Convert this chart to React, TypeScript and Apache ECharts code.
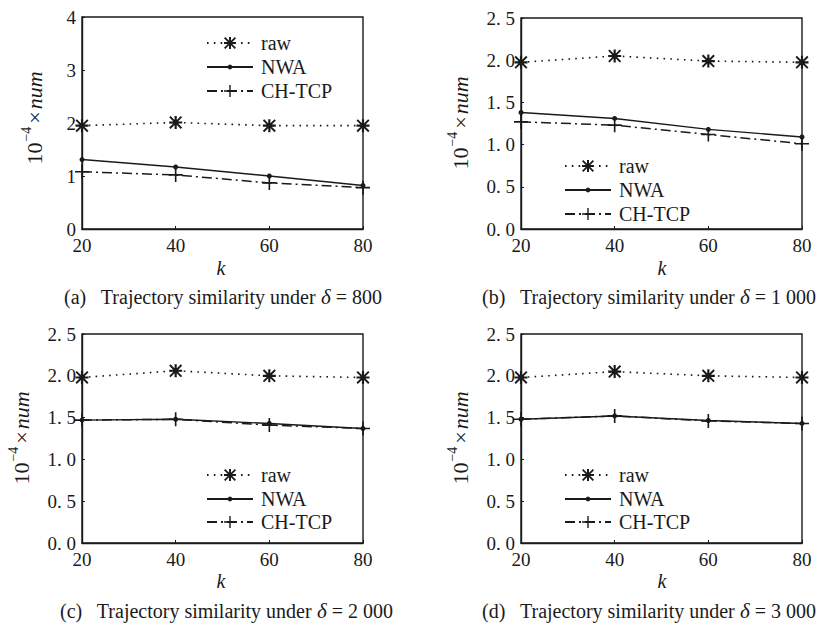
import React, { useEffect, useRef } from "react";
import * as echarts from "echarts";

const kValues = [20, 40, 60, 80];
const seriesNames = ["raw", "NWA", "CH-TCP"];

// panel (a) δ = 800
const rawA = [1.95, 2.01, 1.95, 1.95];
const nwaA = [1.31, 1.17, 1.0, 0.82];
const chA = [1.08, 1.02, 0.87, 0.78];
// panel (b) δ = 1 000
const rawB = [1.975, 2.05, 1.99, 1.975];
const nwaB = [1.38, 1.31, 1.18, 1.09];
const chB = [1.27, 1.23, 1.12, 1.01];
// panel (c) δ = 2 000
const rawC = [1.98, 2.06, 2.0, 1.98];
const nwaC = [1.47, 1.48, 1.43, 1.37];
const chC = [1.47, 1.48, 1.41, 1.37];
// panel (d) δ = 3 000
const rawD = [1.98, 2.05, 2.0, 1.98];
const nwaD = [1.48, 1.52, 1.465, 1.43];
const chD = [1.48, 1.52, 1.46, 1.43];

const yMaxes = [4, 2.5, 2.5, 2.5];
const yIntervals = [1, 0.5, 0.5, 0.5];
const captionLetters = ["(a)", "(b)", "(c)", "(d)"];
const deltaLabels = ["800", "1 000", "2 000", "3 000"];

const FONT = "Liberation Serif";
const INK = "#1a1a1a";

const ASTERISK =
  "path://M10,0H14V24H10Z M0,10H24V14H0Z M2.5,0L24,21.5L21.5,24L0,2.5Z M21.5,0L24,2.5L2.5,24L0,21.5Z M7,7H17V17H7Z";
const PLUS = "path://M10.6,0H13.4V24H10.6Z M0,10.6H24V13.4H0Z";

const panelData = [
  [rawA, nwaA, chA],
  [rawB, nwaB, chB],
  [rawC, nwaC, chC],
  [rawD, nwaD, chD],
];

const grids = [
  { left: 82, top: 17, width: 281, height: 212 },
  { left: 521, top: 18, width: 281, height: 211 },
  { left: 82, top: 334, width: 281, height: 209 },
  { left: 521, top: 334, width: 281, height: 209 },
];

const legendPos = [
  { left: 201, rows: [38, 62, 86] },
  { left: 559, rows: [161, 185, 209] },
  { left: 201, rows: [470, 494, 517] },
  { left: 559, rows: [470, 494, 517] },
];

const yNamePos = [
  { x: 32, y: 118 },
  { x: 458, y: 123 },
  { x: 19, y: 438 },
  { x: 458, y: 438 },
];
const kPos = [
  { x: 221, y: 268 },
  { x: 662, y: 268 },
  { x: 221, y: 581 },
  { x: 662, y: 581 },
];
const capPos = [
  { x: 64, y: 297 },
  { x: 482, y: 297 },
  { x: 60, y: 611 },
  { x: 482, y: 611 },
];

function seriesStyle(idx: number) {
  if (idx === 0)
    return {
      symbol: ASTERISK,
      symbolSize: 13,
      lineStyle: { color: INK, width: 1.6, type: [1.6, 5.2] as any, cap: "butt" as any },
      itemStyle: { color: INK },
    };
  if (idx === 1)
    return {
      symbol: "circle",
      symbolSize: 5,
      lineStyle: { color: INK, width: 1.4, type: "solid" as any },
      itemStyle: { color: INK },
    };
  return {
    symbol: PLUS,
    symbolSize: 14,
    lineStyle: { color: INK, width: 1.5, type: [10, 4, 2, 4] as any },
    itemStyle: { color: INK },
  };
}

export default function App() {
  const ref = useRef<HTMLDivElement>(null);

  useEffect(() => {
    if (!ref.current) return;
    const chart = echarts.init(ref.current, null, { renderer: "svg" });

    const grid: any[] = [];
    const xAxis: any[] = [];
    const yAxis: any[] = [];
    const series: any[] = [];
    const legend: any[] = [];
    const graphic: any[] = [];

    grids.forEach((g, p) => {
      grid.push({
        ...g,
        show: true,
        borderColor: INK,
        borderWidth: 1.4,
        backgroundColor: "transparent",
      });
      xAxis.push({
        type: "value",
        gridIndex: p,
        min: 20,
        max: 80,
        interval: 20,
        axisLine: { show: true, lineStyle: { color: INK, width: 1.4 } },
        axisTick: { show: true, inside: true, length: 3, lineStyle: { color: INK } },
        splitLine: { show: false },
        axisLabel: {
          color: INK,
          fontFamily: FONT,
          fontSize: 19,
          lineHeight: 14,
          margin: 9,
        },
      });
      yAxis.push({
        type: "value",
        gridIndex: p,
        min: 0,
        max: yMaxes[p],
        interval: yIntervals[p],
        axisLine: { show: true, lineStyle: { color: INK, width: 1.4 } },
        axisTick: { show: true, inside: true, length: 3, lineStyle: { color: INK } },
        splitLine: { show: false },
        axisLabel: {
          color: INK,
          fontFamily: FONT,
          fontSize: 19,
          lineHeight: 13,
          margin: 6,
          formatter: (v: number) =>
            p === 0 ? String(Math.round(v)) : v.toFixed(1).replace(".", ". "),
        },
      });
      panelData[p].forEach((vals, s) => {
        series.push({
          type: "line",
          name: seriesNames[s],
          xAxisIndex: p,
          yAxisIndex: p,
          data: kValues.map((k, i) => [k, vals[i]]),
          ...seriesStyle(s),
          z: 5 - s,
        });
      });
      legendPos[p].rows.forEach((cy, s) => {
        const ih = s === 1 ? 6 : 15;
        legend.push({
          data: [seriesNames[s]],
          orient: "vertical",
          left: legendPos[p].left,
          top: cy - 11,
          itemWidth: 46,
          itemHeight: ih,
          selectedMode: false,
          textStyle: {
            color: INK,
            fontFamily: FONT,
            fontSize: 20,
            padding: [0, 0, 0, 3],
            lineHeight: 22,
          },
        });
      });
      graphic.push({
        type: "text",
        x: yNamePos[p].x,
        y: yNamePos[p].y,
        rotation: Math.PI / 2,
        style: {
          text: "{a|10}{s|−4}{x|×}{i|num}",
          textAlign: "center",
          textVerticalAlign: "middle",
          fill: INK,
          rich: {
            a: { fontFamily: FONT, fontSize: 22, fill: INK, lineHeight: 26, verticalAlign: "bottom" },
            s: { fontFamily: FONT, fontSize: 14, fill: INK, lineHeight: 26, verticalAlign: "top", padding: [0, 1, 10, 1] },
            x: { fontFamily: FONT, fontSize: 22, fill: INK, lineHeight: 26, verticalAlign: "bottom", padding: [0, 2, 0, 2] },
            i: { fontFamily: FONT, fontSize: 22, fontStyle: "italic", fill: INK, lineHeight: 26, verticalAlign: "bottom" },
          },
        },
      });
      graphic.push({
        type: "text",
        x: kPos[p].x,
        y: kPos[p].y,
        style: {
          text: "k",
          textAlign: "center",
          textVerticalAlign: "middle",
          fill: INK,
          fontFamily: FONT,
          fontSize: 20,
          fontStyle: "italic",
        },
      });
      graphic.push({
        type: "text",
        x: capPos[p].x,
        y: capPos[p].y,
        style: {
          text: `{a|${captionLetters[p]}   Trajectory similarity under }{i|δ}{a| = ${deltaLabels[p]}}`,
          textAlign: "left",
          textVerticalAlign: "middle",
          fill: INK,
          rich: {
            a: { fontFamily: FONT, fontSize: 20, fill: INK },
            i: { fontFamily: FONT, fontSize: 21, fontStyle: "italic", fill: INK },
          },
        },
      });
    });

    chart.setOption({
      animation: false,
      backgroundColor: "#ffffff",
      grid,
      xAxis,
      yAxis,
      series,
      legend,
      graphic,
    });

    return () => chart.dispose();
  }, []);

  return (
    <div
      ref={ref}
      style={{ position: "absolute", left: 0, top: 0, width: 831, height: 628 }}
    />
  );
}
